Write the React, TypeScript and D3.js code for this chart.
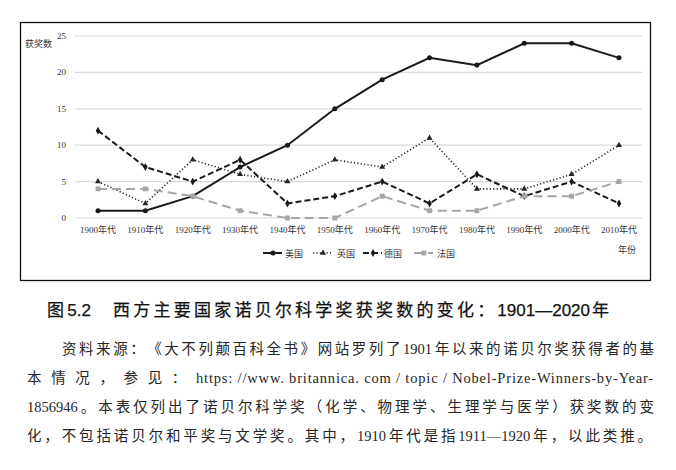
import React, { useLayoutEffect, useRef, useState } from "react";
import * as d3 from "d3";

const categories = ["1900年代","1910年代","1920年代","1930年代","1940年代","1950年代","1960年代","1970年代","1980年代","1990年代","2000年代","2010年代"];
const usa = [1,1,3,7,10,15,19,22,21,24,24,22];
const uk = [5,2,8,6,5,8,7,11,4,4,6,10];
const germany = [12,7,5,8,2,3,5,2,6,3,5,2];
const france = [4,4,3,1,0,0,3,1,1,3,3,5];
const yTicks = [0,5,10,15,20,25];
const seriesNames = ["美国","英国","德国","法国"];

const titleText = "图5.2\u3000西方主要国家诺贝尔科学奖获奖数的变化：1901—2020年";
const bodyLines = [
  "资料来源：《大不列颠百科全书》网站罗列了1901年以来的诺贝尔奖获得者的基",
  "本情况，参见：https: //www. britannica. com / topic / Nobel-Prize-Winners-by-Year-",
  "1856946。本表仅列出了诺贝尔科学奖（化学、物理学、生理学与医学）获奖数的变",
  "化，不包括诺贝尔和平奖与文学奖。其中，1910年代是指1911—1920年，以此类推。",
];

type Style = { color: string; width: number; dash: string; marker: string };
const styles: Style[] = [
  { color: "#1a1a1a", width: 2, dash: "", marker: "circle" },
  { color: "#262626", width: 1.6, dash: "1.2,2.2", marker: "triangle" },
  { color: "#1a1a1a", width: 2, dash: "6,3", marker: "diamond" },
  { color: "#a6a6a6", width: 2, dash: "9,5", marker: "square" },
];

const cjkRe = /[\u3000-\u303f\u4e00-\u9fff\uff00-\uffef]/;

type Run = { text: string; cjk: boolean };
function splitRuns(s: string): Run[] {
  const runs: Run[] = [];
  for (const ch of Array.from(s)) {
    const c = cjkRe.test(ch);
    const last = runs[runs.length - 1];
    if (last && last.cjk === c) last.text += ch;
    else runs.push({ text: ch, cjk: c });
  }
  return runs;
}

type Font = { size: number; family: string; weight?: number };

function Marker({ type, x, y, color }: { type: string; x: number; y: number; color: string }) {
  const sym =
    type === "circle" ? d3.symbolCircle :
    type === "triangle" ? d3.symbolTriangle :
    type === "diamond" ? d3.symbolDiamond : d3.symbolSquare;
  const size = type === "circle" ? 20 : type === "triangle" ? 16 : type === "diamond" ? 18 : 24;
  const p = d3.symbol().type(sym).size(size)() as string;
  return <path d={p} transform={`translate(${x},${y})`} fill={color} />;
}

function JustifiedLine({ text, x0, x1, y, font, fill, widths, gap, extra, latinTarget }:
  { text: string; x0: number; x1: number; y: number; font: Font; fill: string; widths: Record<string, number> | null; gap: number; extra?: any; latinTarget?: number }) {
  const runs = splitRuns(text);
  if (!widths) return null;
  const fs = font.size;
  let nCjk = 0, sumLatin = 0, gaps = 0, latinChars = 0;
  runs.forEach((r, i) => {
    if (r.cjk) nCjk += Array.from(r.text).length;
    else {
      sumLatin += widths[r.text] || 0;
      latinChars += Array.from(r.text).length;
      if (i < runs.length - 1) gaps += gap;
    }
  });
  let ls = 0;
  if (latinTarget && latinChars > 0) {
    ls = (latinTarget - sumLatin) / latinChars;
    sumLatin = latinTarget;
  }
  const lastIsCjk = runs[runs.length - 1].cjk;
  const slots = nCjk - (lastIsCjk ? 1 : 0);
  const s = (x1 - x0 - nCjk * fs - sumLatin - gaps) / Math.max(1, slots);
  let cx = x0;
  const tspans: React.ReactNode[] = [];
  runs.forEach((r, i) => {
    if (r.cjk) {
      const xs: number[] = [];
      for (const _ of Array.from(r.text)) {
        xs.push(cx);
        cx += fs + s;
      }
      tspans.push(<tspan key={i} x={xs.join(" ")}>{r.text}</tspan>);
    } else {
      const w = (widths[r.text] || 0) + ls * Array.from(r.text).length;
      tspans.push(<tspan key={i} x={cx} letterSpacing={ls || undefined}>{r.text}</tspan>);
      cx += w + (i < runs.length - 1 ? gap : 0);
    }
  });
  return (
    <text y={y} fontSize={fs} fontFamily={font.family} fontWeight={font.weight || 400} fill={fill} {...(extra || {})} style={{ whiteSpace: "pre" }}>
      {tspans}
    </text>
  );
}

const bodyFont: Font = { size: 14.5, family: "'Liberation Serif', 'Noto Sans CJK SC', serif" };
const titleFont: Font = { size: 17, family: "'Liberation Sans', 'Noto Sans CJK SC', sans-serif" };

export default function App() {
  const measureRef = useRef<SVGTextElement>(null);
  const [bodyW, setBodyW] = useState<Record<string, number> | null>(null);
  const [titleW, setTitleW] = useState<Record<string, number> | null>(null);

  useLayoutEffect(() => {
    const el = measureRef.current;
    if (!el) return;
    const measure = (lines: string[], font: Font) => {
      const out: Record<string, number> = {};
      el.setAttribute("font-size", String(font.size));
      el.setAttribute("font-family", font.family);
      el.setAttribute("font-weight", String(font.weight || 400));
      lines.forEach((l) => splitRuns(l).forEach((r) => {
        if (!r.cjk) {
          el.textContent = r.text;
          out[r.text] = el.getComputedTextLength();
        }
      }));
      el.textContent = "";
      return out;
    };
    setBodyW(measure(bodyLines, bodyFont));
    setTitleW(measure([titleText], titleFont));
  }, []);

  const x = d3.scalePoint<string>().domain(categories).range([98, 619]);
  const y = d3.scaleLinear().domain([0, 25]).range([218, 36]);
  const data = [usa, uk, germany, france];
  const line = d3.line<number>().x((_, i) => x(categories[i]) as number).y((d) => y(d));
  const serif = "'Liberation Serif', 'Noto Sans CJK SC', serif";
  const legendX = [263, 313, 363, 414];
  const legendTextX = [285, 337, 384, 437];
  const bodyStarts = [62, 27, 27, 27];
  const bodyEnds = [654, 654, 654, 652];
  const latinTargets: (number | undefined)[] = [undefined, 458, undefined, undefined];

  return (
    <svg width={676} height={470} style={{ position: "absolute", left: 0, top: 0, background: "#fff" }}>
      <rect x={0} y={0} width={676} height={470} fill="#fff" />
      <text ref={measureRef} x={-1000} y={-1000} style={{ whiteSpace: "pre" }} />
      <rect x={20.5} y={22.5} width={630} height={258} fill="none" stroke="#111" strokeWidth={1.3} />
      {yTicks.map((t) => (
        <g key={t}>
          <line x1={75} x2={642} y1={y(t)} y2={y(t)} stroke="#d9d9d9" strokeWidth={1.2} />
          <text x={66} y={y(t) + 3} textAnchor="end" fontSize={9} fontFamily={serif} fill="#333">{t}</text>
        </g>
      ))}
      <text x={25} y={47} fontSize={9} fontFamily={serif} fill="#333">获奖数</text>
      {categories.map((c) => (
        <text key={c} x={x(c)} y={233} textAnchor="middle" fontSize={9} fontFamily={serif} fill="#333">{c}</text>
      ))}
      <text x={618} y={253} fontSize={9} fontFamily={serif} fill="#333">年份</text>
      {data.map((d, si) => (
        <g key={si}>
          <path d={line(d) as string} fill="none" stroke={styles[si].color} strokeWidth={styles[si].width} strokeDasharray={styles[si].dash} />
          {d.map((v, i) => (
            <Marker key={i} type={styles[si].marker} x={x(categories[i]) as number} y={y(v)} color={styles[si].color} />
          ))}
        </g>
      ))}
      {seriesNames.map((n, si) => (
        <g key={n}>
          <line x1={legendX[si]} x2={legendX[si] + 19} y1={253} y2={253} stroke={styles[si].color} strokeWidth={styles[si].width} strokeDasharray={styles[si].dash} />
          <Marker type={styles[si].marker} x={legendX[si] + 10} y={253} color={styles[si].color} />
          <text x={legendTextX[si]} y={256.5} fontSize={9} fontFamily={serif} fill="#333">{n}</text>
        </g>
      ))}
      <JustifiedLine text={titleText} x0={47} x1={609} y={316} font={titleFont} fill="#111" widths={titleW} gap={2}
        extra={{ stroke: "#111", strokeWidth: 0.25 }} />
      {bodyLines.map((l, i) => (
        <JustifiedLine key={i} text={l} x0={bodyStarts[i]} x1={bodyEnds[i]} y={354 + i * 29} font={bodyFont} fill="#262626" widths={bodyW} gap={3} latinTarget={latinTargets[i]} />
      ))}
    </svg>
  );
}
